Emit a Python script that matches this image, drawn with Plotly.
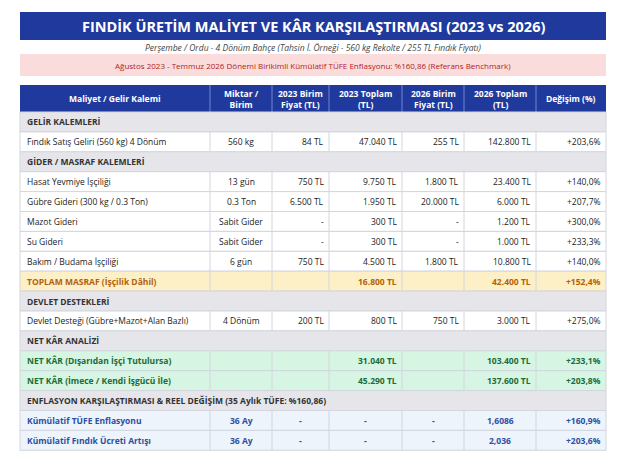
import plotly.graph_objects as go

title = "FINDİK ÜRETİM MALİYET VE KÂR KARŞILAŞTIRMASI (2023 vs 2026)"
subtitle = "Perşembe / Ordu - 4 Dönüm Bahçe (Tahsin İ. Örneği - 560 kg Rekolte / 255 TL Fındık Fiyatı)"
banner = "Ağustos 2023 - Temmuz 2026 Dönemi Birikimli Kümülatif TÜFE Enflasyonu: %160,86 (Referans Benchmark)"

headers = ["Maliyet / Gelir Kalemi", "Miktar /<br>Birim", "2023 Birim<br>Fiyat (TL)", "2023 Toplam<br>(TL)",
           "2026 Birim<br>Fiyat (TL)", "2026 Toplam<br>(TL)", "Değişim (%)"]

kinds = ["section", "data", "section", "data", "data", "data", "data", "data", "total",
         "section", "data", "section", "net", "net", "section", "cpi", "cpi"]
labels = ["GELİR KALEMLERİ", "Fındık Satış Geliri (560 kg) 4 Dönüm", "GİDER / MASRAF KALEMLERİ",
          "Hasat Yevmiye İşçiliği", "Gübre Gideri (300 kg / 0.3 Ton)", "Mazot Gideri", "Su Gideri",
          "Bakım / Budama İşçiliği", "TOPLAM MASRAF (İşçilik Dâhil)", "DEVLET DESTEKLERİ",
          "Devlet Desteği (Gübre+Mazot+Alan Bazlı)", "NET KÂR ANALİZİ", "NET KÂR (Dışarıdan İşçi Tutulursa)",
          "NET KÂR (İmece / Kendi İşgücü İle)", "ENFLASYON KARŞILAŞTIRMASI & REEL DEĞİŞİM (35 Aylık TÜFE: %160,86)",
          "Kümülatif TÜFE Enflasyonu", "Kümülatif Fındık Ücreti Artışı"]
miktar = ["", "560 kg", "", "13 gün", "0.3 Ton", "Sabit Gider", "Sabit Gider", "6 gün", "", "", "4 Dönüm",
          "", "", "", "", "36 Ay", "36 Ay"]
price23 = ["", "84 TL", "", "750 TL", "6.500 TL", "-", "-", "750 TL", "", "", "200 TL", "", "", "", "", "-", "-"]
total23 = ["", "47.040 TL", "", "9.750 TL", "1.950 TL", "300 TL", "300 TL", "4.500 TL", "16.800 TL", "",
           "800 TL", "", "31.040 TL", "45.290 TL", "", "-", "-"]
price26 = ["", "255 TL", "", "1.800 TL", "20.000 TL", "-", "-", "1.800 TL", "", "", "750 TL", "", "", "", "", "-", "-"]
total26 = ["", "142.800 TL", "", "23.400 TL", "6.000 TL", "1.200 TL", "1.000 TL", "10.800 TL", "42.400 TL", "",
           "3.000 TL", "", "103.400 TL", "137.600 TL", "", "1,6086", "2,036"]
change = ["", "+203,6%", "", "+140,0%", "+207,7%", "+300,0%", "+233,3%", "+140,0%", "+152,4%", "",
          "+275,0%", "", "+233,1%", "+203,8%", "", "+160,9%", "+203,6%"]

FONT = "Open Sans"
BLUE = "#1f3a9c"
col_edges = [20, 210, 272, 329, 402, 464, 536, 606]
head_top, head_bot = 85, 112
row_h = 19.9
OFF = 8  # page body margin

styles = {
    "section": dict(fill="#e6e6ea", color="#333333", bold=True),
    "data": dict(fill="#ffffff", color="#222222", bold=False),
    "total": dict(fill="#fdf0c6", color="#b5600a", bold=True),
    "net": dict(fill="#d6f5e2", color="#1d6b3a", bold=True),
    "cpi": dict(fill="#eef4fc", color="#2d4fa0", bold=True),
}

fig = go.Figure()
shapes = []
ann = []

def txt(x, y, s, size=8.5, color="#222", bold=False, xanchor="center", italic=False):
    if bold:
        s = f"<b>{s}</b>"
    if italic:
        s = f"<i>{s}</i>"
    ann.append(dict(x=x, y=y, text=s, showarrow=False, xanchor=xanchor, yanchor="middle",
                    font=dict(family=FONT, size=size, color=color)))

# title band
shapes.append(dict(type="rect", x0=20, x1=606, y0=12, y1=40, fillcolor=BLUE, line_width=0))
txt(313, 26, title, size=14.5, color="white", bold=True)
txt(313, 47, subtitle, size=8.5, color="#444", italic=True)
shapes.append(dict(type="rect", x0=20, x1=606, y0=54, y1=76, fillcolor="#fbdcdc", line_width=0))
txt(313, 65, banner, size=8, color="#b01c1c")

# header
shapes.append(dict(type="rect", x0=20, x1=606, y0=head_top, y1=head_bot, fillcolor=BLUE, line_width=0))
for i, h in enumerate(headers):
    cx = (col_edges[i] + col_edges[i + 1]) / 2
    txt(cx, (head_top + head_bot) / 2, h, size=8.5, color="white", bold=True)
    if 0 < i:
        shapes.append(dict(type="line", x0=col_edges[i], x1=col_edges[i], y0=head_top, y1=head_bot,
                           line=dict(color="#6d86cf", width=1)))

cols = [miktar, price23, total23, price26, total26, change]
for r, kind in enumerate(kinds):
    st = styles[kind]
    y0 = head_bot + r * row_h
    y1 = y0 + row_h
    ym = (y0 + y1) / 2
    shapes.append(dict(type="rect", x0=20, x1=606, y0=y0, y1=y1, fillcolor=st["fill"],
                       line=dict(color="#d2d6de", width=1)))
    txt(25, ym, labels[r], size=8.5, color=st["color"], bold=st["bold"], xanchor="left")
    if kind == "section":
        continue
    for c in range(1, 7):
        shapes.append(dict(type="line", x0=col_edges[c], x1=col_edges[c], y0=y0, y1=y1,
                           line=dict(color="#d2d6de", width=1)))
        val = cols[c - 1][r]
        if c == 1 or (kind == "cpi" and c < 6):
            txt((col_edges[c] + col_edges[c + 1]) / 2, ym, val, size=8.5, color=st["color"], bold=st["bold"])
        else:
            txt(col_edges[c + 1] - 3, ym, val, size=8.5, color=st["color"], bold=st["bold"], xanchor="right")

fig.update_layout(
    width=621, height=469,
    margin=dict(l=0, r=0, t=0, b=0),
    plot_bgcolor="white", paper_bgcolor="white",
    xaxis=dict(range=[OFF, 621 + OFF], visible=False, fixedrange=True),
    yaxis=dict(range=[469 + OFF, OFF], visible=False, fixedrange=True),
    shapes=shapes, annotations=ann, showlegend=False,
)

fig.write_html("out.html")
